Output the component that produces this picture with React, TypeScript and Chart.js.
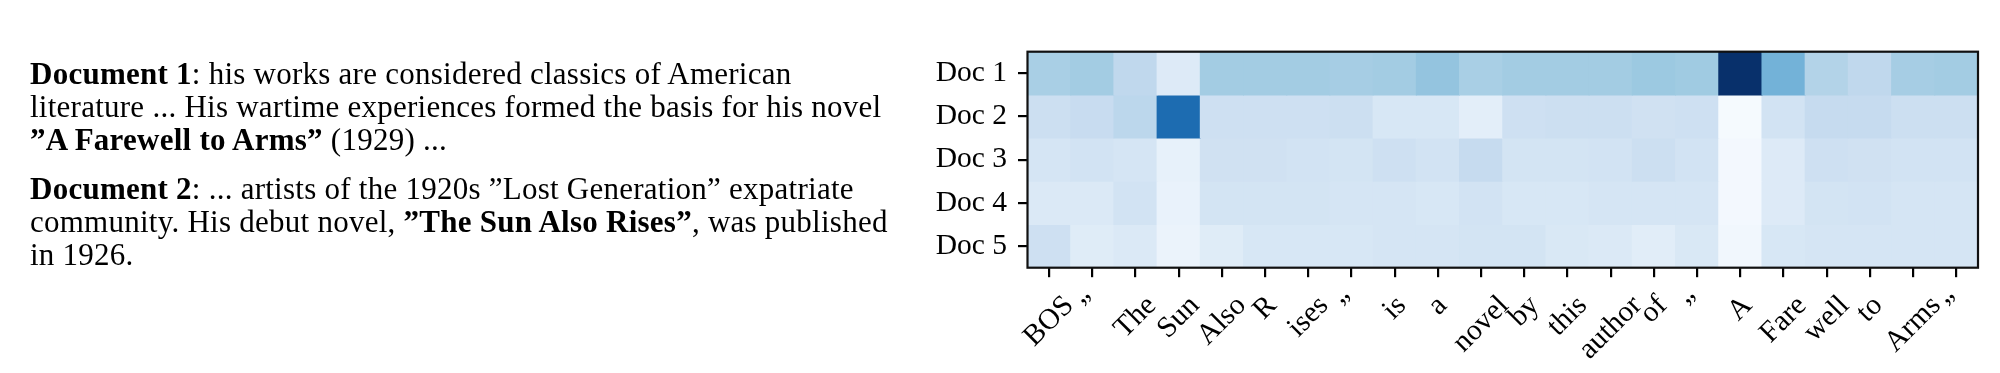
import React, { useEffect, useRef } from "react";
import { Chart, registerables } from "chart.js";

Chart.register(...registerables);

const tokens = ["BOS", "”", "The", "Sun", "Also", "R", "ises", "”", "is", "a", "novel", "by", "this", "author", "of", "”", "A", "Fare", "well", "to", "Arms", "”"];
const docs = ["Doc 1", "Doc 2", "Doc 3", "Doc 4", "Doc 5"];

const doc1 = [0.34, 0.36, 0.27, 0.13, 0.36, 0.36, 0.36, 0.35, 0.36, 0.40, 0.34, 0.36, 0.36, 0.36, 0.38, 0.37, 1.0, 0.48, 0.31, 0.27, 0.35, 0.36];
const doc2 = [0.22, 0.24, 0.28, 0.77, 0.21, 0.21, 0.21, 0.22, 0.16, 0.16, 0.10, 0.21, 0.22, 0.22, 0.20, 0.21, 0.01, 0.19, 0.25, 0.25, 0.22, 0.22];
const doc3 = [0.17, 0.19, 0.17, 0.08, 0.20, 0.20, 0.19, 0.18, 0.21, 0.19, 0.25, 0.18, 0.18, 0.19, 0.22, 0.19, 0.02, 0.13, 0.21, 0.20, 0.19, 0.19];
const doc4 = [0.14, 0.14, 0.19, 0.07, 0.18, 0.18, 0.18, 0.17, 0.17, 0.16, 0.19, 0.16, 0.16, 0.17, 0.17, 0.17, 0.02, 0.13, 0.18, 0.19, 0.17, 0.17];
const doc5 = [0.21, 0.12, 0.14, 0.06, 0.12, 0.16, 0.16, 0.16, 0.17, 0.17, 0.18, 0.18, 0.15, 0.14, 0.11, 0.15, 0.03, 0.16, 0.17, 0.17, 0.17, 0.17];
const rows = [doc1, doc2, doc3, doc4, doc5];

const BLUES = ["#f7fbff", "#deebf7", "#c6dbef", "#9ecae1", "#6baed6", "#4292c6", "#2171b5", "#08519c", "#08306b"];

function hexToRgb(h: string) {
  return [parseInt(h.slice(1, 3), 16), parseInt(h.slice(3, 5), 16), parseInt(h.slice(5, 7), 16)];
}

function blues(v: number) {
  const t = Math.max(0, Math.min(1, v)) * (BLUES.length - 1);
  const i = Math.min(BLUES.length - 2, Math.floor(t));
  const f = t - i;
  const a = hexToRgb(BLUES[i]);
  const b = hexToRgb(BLUES[i + 1]);
  const c = a.map((x, k) => Math.round(x + (b[k] - x) * f));
  return `rgb(${c[0]},${c[1]},${c[2]})`;
}

const FONT = '"Liberation Serif", "Times New Roman", serif';
const LABEL_SIZE = 29.5;

const framePlugin = {
  id: "frame",
  afterDatasetsDraw(chart: any) {
    const { ctx, chartArea } = chart;
    ctx.save();
    ctx.strokeStyle = "#111";
    ctx.lineWidth = 2.2;
    ctx.strokeRect(chartArea.left, chartArea.top, chartArea.right - chartArea.left, chartArea.bottom - chartArea.top);
    ctx.restore();
  },
};

const xLabelPlugin = {
  id: "xlabels",
  afterDraw(chart: any) {
    const { ctx, chartArea } = chart;
    const xs = chart.scales.x;
    ctx.save();
    ctx.font = `${LABEL_SIZE}px ${FONT}`;
    ctx.fillStyle = "#000";
    ctx.textAlign = "center";
    ctx.textBaseline = "middle";
    const h = LABEL_SIZE * 1.15;
    const top = chartArea.bottom + 9.5 + 12;
    tokens.forEach((t, i) => {
      const x = xs.getPixelForTick(i);
      const w = ctx.measureText(t).width;
      const cy = top + ((w + h) * Math.SQRT1_2) / 2;
      ctx.save();
      ctx.translate(x, cy);
      ctx.rotate(-Math.PI / 4);
      ctx.fillText(t, 0, 0);
      ctx.restore();
    });
    ctx.restore();
  },
};

function Heatmap() {
  const ref = useRef<HTMLCanvasElement>(null);
  useEffect(() => {
    if (!ref.current) return;
    const chart = new Chart(ref.current, {
      type: "bar",
      data: {
        labels: tokens,
        datasets: rows.map((vals, i) => ({
          label: docs[i],
          data: tokens.map(() => 1),
          backgroundColor: vals.map(blues),
          borderWidth: 0,
          barPercentage: 1,
          categoryPercentage: 1,
          inflateAmount: 0.5,
        })),
      },
      options: {
        responsive: false,
        animation: false,
        devicePixelRatio: 1,
        events: [],
        layout: { padding: { left: 927.5, top: 51.7, right: 22, bottom: 0 } },
        plugins: { legend: { display: false }, tooltip: { enabled: false } },
        scales: {
          x: {
            type: "category",
            stacked: true,
            offset: true,
            grid: { display: true, drawOnChartArea: false, offset: false, drawTicks: true, tickLength: 9.5, tickColor: "#000", tickWidth: 2.2, lineWidth: 2.2 },
            border: { display: false },
            ticks: { display: false },
            afterFit: (s: any) => {
              s.height = 373 - 267.7;
            },
          },
          y: {
            type: "linear",
            stacked: true,
            reverse: true,
            min: 0,
            max: 5,
            afterBuildTicks: (s: any) => {
              s.ticks = docs.map((_, i) => ({ value: i + 0.5 }));
            },
            ticks: {
              callback: (_v: any, i: number) => docs[i],
              font: { family: FONT, size: LABEL_SIZE },
              color: "#000",
              padding: 11,
            },
            grid: { display: true, drawOnChartArea: false, drawTicks: true, tickLength: 9.5, tickColor: "#000", tickWidth: 2.2, lineWidth: 2.2 },
            border: { display: false },
            afterFit: (s: any) => {
              s.width = 100;
            },
          },
        },
      } as any,
      plugins: [framePlugin, xLabelPlugin],
    });
    return () => chart.destroy();
  }, []);
  return <canvas ref={ref} width={2000} height={373} style={{ position: "absolute", left: 0, top: 0, width: 2000, height: 373 }} />;
}

export default function App() {
  return (
    <div style={{ position: "absolute", left: 0, top: 0, width: 2000, height: 373, background: "#fff", overflow: "hidden" }}>
      <Heatmap />
      <div
        style={{
          position: "absolute",
          left: 30,
          top: 57,
          fontFamily: FONT,
          fontSize: 31,
          lineHeight: "33px",
          whiteSpace: "nowrap",
          color: "#000",
          letterSpacing: 0.25,
        }}
      >
        <div>
          <b>Document 1</b>: his works are considered classics of American
        </div>
        <div>literature ... His wartime experiences formed the basis for his novel</div>
        <div>
          <b>”A Farewell to Arms”</b> (1929) ...
        </div>
        <div style={{ marginTop: 16 }}>
          <b>Document 2</b>: ... artists of the 1920s ”Lost Generation” expatriate
        </div>
        <div>
          community. His debut novel, <b>”The Sun Also Rises”</b>, was published
        </div>
        <div>in 1926.</div>
      </div>
    </div>
  );
}
